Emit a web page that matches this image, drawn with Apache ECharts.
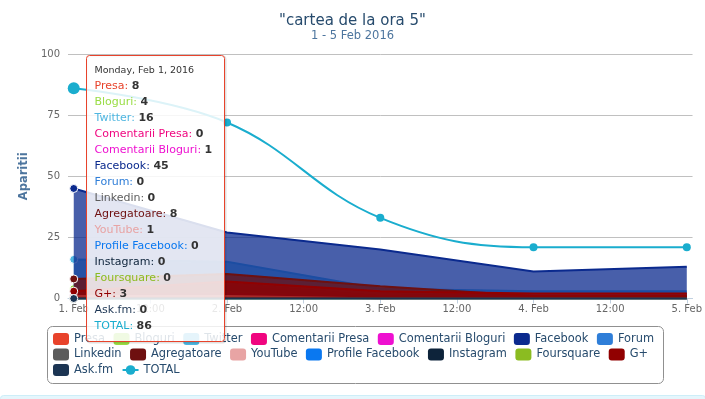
<!doctype html>
<html lang="ro">
<head>
    <meta charset="UTF-8">
    <title>cartea de la ora 5</title>
    <style>
        html, body { margin: 0; padding: 0; background: #fff; }
        #main { width: 705px; height: 399px; }
    </style>
</head>
<body>
<div id="main"></div>
<script src="https://cdn.jsdelivr.net/npm/echarts@6/dist/echarts.min.js"></script>
<script type="text/javascript">
    // date (ore de la 1 Feb 00:00)
    var hours = [0, 24, 48, 72, 96];
    var xTicks = [0, 12, 24, 36, 48, 60, 72, 84, 96];
    var xTickLabels = ['1. Feb', '12:00', '2. Feb', '12:00', '3. Feb', '12:00', '4. Feb', '12:00', '5. Feb'];
    var tooltipHeader = 'Monday, Feb 1, 2016';

    var presa = [8, 6, 1, 2, 2];
    var bloguri = [4, 3, 0, 1, 0];
    var twitter = [16, 15, 4, 3, 3];
    var comentariiPresa = [0, 1, 0, 0, 0];
    var comentariiBloguri = [1, 2, 0, 1, 0];
    var facebook = [45, 27, 20, 11, 13];
    var forum = [0, 0, 0, 0, 0];
    var linkedin = [0, 0, 0, 0, 0];
    var agregatoare = [8, 10, 5, 1, 1];
    var youtube = [1, 1, 0, 0, 0];
    var profileFacebook = [0, 0, 0, 0, 0];
    var instagram = [0, 0, 0, 0, 0];
    var foursquare = [0, 0, 0, 0, 0];
    var gplus = [3, 7, 3, 2, 2];
    var askfm = [0, 0, 0, 0, 0];
    var total = [86, 72, 33, 21, 21];

    var areaNames = ['Presa', 'Bloguri', 'Twitter', 'Comentarii Presa', 'Comentarii Bloguri', 'Facebook', 'Forum',
        'Linkedin', 'Agregatoare', 'YouTube', 'Profile Facebook', 'Instagram', 'Foursquare', 'G+', 'Ask.fm'];
    var areaValues = [presa, bloguri, twitter, comentariiPresa, comentariiBloguri, facebook, forum,
        linkedin, agregatoare, youtube, profileFacebook, instagram, foursquare, gplus, askfm];
    var areaColors = ['#e8432b', '#99dd44', '#4fb6e0', '#f0057f', '#ee10d0', '#0b2a8e', '#2f7ed8',
        '#5c5c5c', '#6e1010', '#e8a4a4', '#0a78f0', '#0d233a', '#8bbc21', '#910000', '#1c3553'];
    var totalColor = '#1aadce';

    var font = 'DejaVu Sans';
    var myChart = echarts.init(document.getElementById('main'));

    // fiecare serie pe stratul ei (aria + linia), ca sa se suprapuna in ordine
    var series = [];
    for (var i = 0; i < areaNames.length; i++) {
        series.push({
            name: areaNames[i],
            type: 'line',
            z: 2 + i,
            data: hours.map(function (h, k) { return [h, areaValues[i][k]]; }),
            symbol: 'circle',
            symbolSize: function (v, p) { return p.dataIndex === 0 ? 8 : 0; },
            lineStyle: { width: 2, color: areaColors[i] },
            areaStyle: { color: areaColors[i], opacity: 0.75 },
            itemStyle: { color: areaColors[i], borderColor: '#fff', borderWidth: 1 },
            silent: true
        });
    }
    series.push({
        name: 'TOTAL',
        type: 'line',
        z: 2 + areaNames.length,
        smooth: 0.4,
        data: hours.map(function (h, k) { return [h, total[k]]; }),
        symbol: 'circle',
        symbolSize: function (v, p) { return p.dataIndex === 0 ? 12 : 8; },
        lineStyle: { width: 2, color: totalColor },
        itemStyle: { color: totalColor },
        silent: true
    });

    // "tooltip" fix, la 1 Feb
    var allNames = areaNames.concat(['TOTAL']);
    var allColors = areaColors.concat([totalColor]);
    var allValues = areaValues.concat([total]);
    var rich = {
        h: { fill: '#333', fontSize: 9.5, fontFamily: font, lineHeight: 15 },
        v: { fill: '#333', fontSize: 11, fontFamily: font, fontWeight: 'bold', lineHeight: 16 }
    };
    var lines = ['{h|' + tooltipHeader + '}'];
    for (var j = 0; j < allNames.length; j++) {
        rich['n' + j] = { fill: allColors[j], fontSize: 11, fontFamily: font, lineHeight: 16 };
        lines.push('{n' + j + '|' + allNames[j] + ':} {v|' + allValues[j][0] + '}');
    }

    var legendRows = [allNames.slice(0, 7), allNames.slice(7, 14), allNames.slice(14)];
    var legends = legendRows.map(function (row, r) {
        return {
            left: 53,
            top: 333 + r * 15.5,
            padding: 0,
            itemGap: 8.5,
            itemWidth: 16,
            itemHeight: 12,
            textStyle: { color: '#274b6d', fontSize: 11.4, fontFamily: font },
            itemStyle: { borderWidth: 0 },
            data: row.map(function (n) {
                return n === 'TOTAL' ? { name: n } : { name: n, icon: 'roundRect' };
            })
        };
    });

    var option = {
        animation: false,
        textStyle: { fontFamily: font },
        title: {
            text: '"cartea de la ora 5"',
            subtext: '1 - 5 Feb 2016',
            left: 'center',
            top: 9,
            itemGap: 1,
            textStyle: { color: '#274b6d', fontSize: 15, fontWeight: 'normal', fontFamily: font },
            subtextStyle: { color: '#4d759e', fontSize: 11.5, fontFamily: font }
        },
        legend: legends,
        grid: { left: 68, right: 12, top: 54, bottom: 100.5 },
        xAxis: {
            type: 'value',
            min: -0.9,
            max: 96.9,
            axisLine: { lineStyle: { color: '#c0d0e0' } },
            axisTick: { customValues: xTicks, length: 5, lineStyle: { color: '#c0d0e0' } },
            axisLabel: {
                customValues: xTicks,
                color: '#666',
                fontSize: 10,
                margin: 6,
                formatter: function (v) { return xTickLabels[xTicks.indexOf(v)]; }
            },
            splitLine: { show: false }
        },
        yAxis: {
            type: 'value',
            min: 0,
            max: 100,
            interval: 25,
            name: 'Aparitii',
            nameLocation: 'middle',
            nameGap: 36,
            nameTextStyle: { color: '#4d759e', fontWeight: 'bold', fontSize: 11.5, fontFamily: font },
            axisLine: { show: false },
            axisTick: { show: false },
            axisLabel: { color: '#666', fontSize: 10, margin: 8 },
            splitLine: { lineStyle: { color: '#c0c0c0' } }
        },
        graphic: [
            {
                type: 'rect', left: 45, top: 324, z: 1,
                shape: { width: 616, height: 57, r: 5 },
                style: { fill: 'none', stroke: '#909090', lineWidth: 1 }
            },
            {
                type: 'rect', left: 0, top: 395, z: 1,
                shape: { width: 705, height: 4, r: [3, 3, 0, 0] },
                style: { fill: '#e6f6fc', stroke: '#cdeef8', lineWidth: 1 }
            },
            {
                type: 'group', left: 85, top: 54, z: 100,
                children: [
                    {
                        type: 'rect', z: 99,
                        shape: { x: 1, y: 1, width: 138, height: 286, r: 3 },
                        style: { fill: 'none', stroke: 'rgba(0,0,0,0.12)', lineWidth: 2 }
                    },
                    {
                        type: 'rect', z: 100,
                        shape: { x: 0, y: 0, width: 138, height: 286, r: 3 },
                        style: { fill: 'rgba(255,255,255,0.85)', stroke: '#e8432b', lineWidth: 1 }
                    },
                    {
                        type: 'text', z: 101, x: 8, y: 8,
                        style: { text: lines.join('\n'), rich: rich, fontFamily: font, fontSize: 11, fill: '#333' }
                    }
                ]
            }
        ],
        series: series
    };
    myChart.setOption(option);
</script>
</body>
</html>
